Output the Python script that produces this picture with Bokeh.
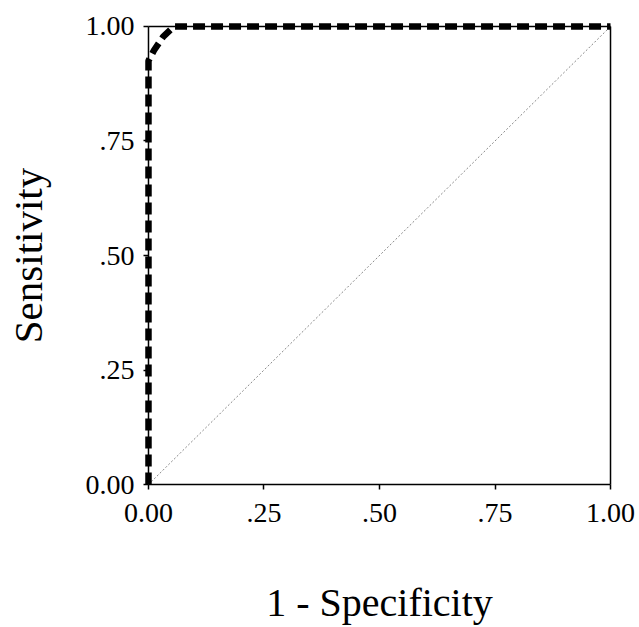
from bokeh.plotting import figure
from bokeh.models import Range1d, FixedTicker
from bokeh.embed import file_html
from bokeh.resources import INLINE

# ROC curve data
fpr = [0.0, 0.0, 0.012, 0.032, 0.055, 1.0]
tpr = [0.0, 0.925, 0.948, 0.978, 1.0, 1.0]
diag_x = [0.0, 1.0]
diag_y = [0.0, 1.0]
tick_vals = [0.0, 0.25, 0.5, 0.75, 1.0]
tick_labels = ["0.00", ".25", ".50", ".75", "1.00"]

lo, hi = tick_vals[0], tick_vals[-1]
pad = 0.0108  # small padding so the thick curve on the box edge is not clipped

p = figure(width=639, height=627, output_backend="svg", toolbar_location=None,
           x_range=Range1d(lo - pad, hi + pad), y_range=Range1d(lo - pad, hi + pad),
           min_border_left=143, min_border_top=21, min_border_right=24, min_border_bottom=138)
p.xgrid.visible = False
p.ygrid.visible = False
p.outline_line_color = None

# box drawn at the data limits
p.segment(x0=[lo, lo, lo, hi], y0=[lo, hi, lo, lo], x1=[hi, hi, lo, hi], y1=[lo, hi, hi, hi],
          line_color="black", line_width=1.5)

p.line(diag_x, diag_y, line_color="#888888", line_width=1, line_dash="2 2")
p.line(fpr, tpr, line_color="black", line_width=6.5, line_dash="12 6")

font = "Liberation Serif"
for ax in (p.xaxis, p.yaxis):
    ax.ticker = FixedTicker(ticks=tick_vals)
    ax.major_label_overrides = {v: l for v, l in zip(tick_vals, tick_labels)}
    ax.major_label_text_font = font
    ax.major_label_text_font_size = "28px"
    ax.major_label_text_color = "black"
    ax.axis_label_text_font = font
    ax.axis_label_text_font_style = "normal"
    ax.axis_label_text_color = "black"
    ax.axis_line_color = None
    ax.major_tick_line_color = "black"
    ax.major_tick_line_width = 1.5
    ax.major_tick_in = 5
    ax.major_tick_out = 0
    ax.minor_tick_line_color = None

p.xaxis.axis_label = "1 - Specificity"
p.yaxis.axis_label = "Sensitivity"
p.xaxis.axis_label_text_font_size = "40px"
p.yaxis.axis_label_text_font_size = "41px"
p.xaxis.major_label_standoff = 14
p.yaxis.major_label_standoff = 9
p.xaxis.axis_label_standoff = 55
p.yaxis.axis_label_standoff = 32

open("out.html", "w").write(file_html(p, INLINE))
